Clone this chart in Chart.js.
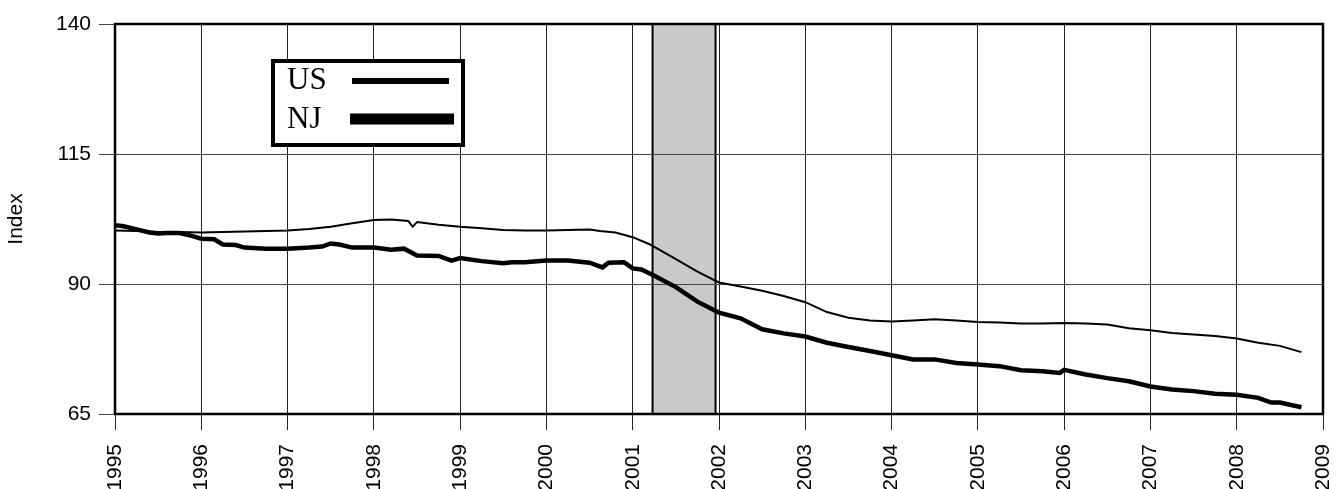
<!DOCTYPE html>
<html>
<head>
<meta charset="utf-8">
<script src="https://cdn.jsdelivr.net/npm/chart.js@4.4.1/dist/chart.umd.min.js"></script>
<style>
  html, body { margin: 0; padding: 0; background: #fff; }
  #wrap { width: 1343px; height: 489px; }
</style>
</head>
<body>
<div id="wrap"><canvas id="myChart"></canvas></div>
<script>
// values (index, decimal year)
const usYears = [1995.0, 1995.25, 1995.5, 1995.75, 1996.0, 1996.25, 1996.5, 1996.75, 1997.0, 1997.25,
  1997.5, 1997.75, 1998.0, 1998.2, 1998.4, 1998.45, 1998.5, 1998.75, 1999.0, 1999.25,
  1999.5, 1999.75, 2000.0, 2000.25, 2000.5, 2000.62, 2000.8, 2001.0, 2001.2, 2001.5,
  2001.75, 2002.0, 2002.25, 2002.5, 2002.75, 2003.0, 2003.25, 2003.5, 2003.75, 2004.0,
  2004.25, 2004.5, 2004.75, 2005.0, 2005.25, 2005.5, 2005.75, 2006.0, 2006.25, 2006.5,
  2006.75, 2007.0, 2007.25, 2007.5, 2007.75, 2008.0, 2008.25, 2008.5, 2008.75];
const usValues = [100.3, 100.2, 100.0, 100.0, 99.9, 100.0, 100.1, 100.2, 100.3, 100.6,
  101.0, 101.7, 102.3, 102.4, 102.1, 101.0, 101.9, 101.4, 101.0, 100.7,
  100.4, 100.3, 100.3, 100.4, 100.5, 100.2, 99.9, 99.0, 97.6, 94.8,
  92.4, 90.3, 89.5, 88.7, 87.7, 86.5, 84.6, 83.5, 83.0, 82.8,
  83.0, 83.2, 83.0, 82.7, 82.6, 82.4, 82.4, 82.5, 82.4, 82.2,
  81.5, 81.1, 80.6, 80.3, 80.0, 79.5, 78.7, 78.1, 76.9];

const njYears = [1995.0, 1995.1, 1995.25, 1995.4, 1995.5, 1995.6, 1995.75, 1995.9, 1996.0, 1996.15,
  1996.25, 1996.4, 1996.5, 1996.75, 1997.0, 1997.25, 1997.4, 1997.5, 1997.6, 1997.75,
  1998.0, 1998.2, 1998.35, 1998.5, 1998.75, 1998.9, 1999.0, 1999.25, 1999.5, 1999.6,
  1999.75, 2000.0, 2000.25, 2000.5, 2000.65, 2000.72, 2000.9, 2001.0, 2001.1, 2001.25,
  2001.5, 2001.75, 2002.0, 2002.25, 2002.5, 2002.75, 2003.0, 2003.25, 2003.5, 2003.75,
  2004.0, 2004.25, 2004.5, 2004.75, 2005.0, 2005.25, 2005.5, 2005.75, 2005.95, 2006.0,
  2006.25, 2006.5, 2006.75, 2007.0, 2007.25, 2007.5, 2007.75, 2008.0, 2008.25, 2008.4,
  2008.5, 2008.75];
const njValues = [101.3, 101.1, 100.5, 99.9, 99.7, 99.8, 99.8, 99.2, 98.7, 98.6,
  97.6, 97.5, 97.0, 96.8, 96.8, 97.0, 97.2, 97.8, 97.6, 97.0,
  97.0, 96.6, 96.8, 95.5, 95.4, 94.5, 95.0, 94.4, 94.0, 94.2,
  94.2, 94.5, 94.5, 94.1, 93.2, 94.1, 94.2, 93.0, 92.8, 91.6,
  89.4, 86.6, 84.5, 83.4, 81.3, 80.5, 79.9, 78.7, 77.9, 77.1,
  76.3, 75.5, 75.5, 74.8, 74.5, 74.2, 73.4, 73.2, 72.9, 73.5,
  72.6, 71.9, 71.3, 70.3, 69.7, 69.4, 68.9, 68.7, 68.1, 67.2,
  67.2, 66.3];

const xTicks = [1995, 1996, 1997, 1998, 1999, 2000, 2001, 2002, 2003, 2004, 2005, 2006, 2007, 2008, 2009];
const yTicks = [65, 90, 115, 140];
const recession = [2001.23, 2001.96];

const toPoints = (xs, ys) => xs.map((x, i) => ({ x, y: ys[i] }));
const sans = "'Liberation Sans', Arial, sans-serif";

const recessionBand = {
  id: "recessionBand",
  beforeDraw(chart) {
    const { ctx, chartArea, scales } = chart;
    const x0 = scales.x.getPixelForValue(recession[0]);
    const x1 = scales.x.getPixelForValue(recession[1]);
    ctx.save();
    ctx.fillStyle = "#c8c9cb";
    ctx.fillRect(x0, chartArea.top, x1 - x0, chartArea.bottom - chartArea.top);
    ctx.lineWidth = 2;
    ctx.strokeStyle = "#000";
    ctx.strokeRect(x0, chartArea.top, x1 - x0, chartArea.bottom - chartArea.top);
    ctx.restore();
  },
};

const frameAndLegend = {
  id: "frameAndLegend",
  afterDraw(chart) {
    const { ctx, chartArea } = chart;
    ctx.save();
    ctx.lineWidth = 2.5;
    ctx.strokeStyle = "#000";
    ctx.strokeRect(chartArea.left, chartArea.top, chartArea.right - chartArea.left, chartArea.bottom - chartArea.top);

    // legend box
    ctx.fillStyle = "#fff";
    ctx.fillRect(273, 61, 190, 84);
    ctx.lineWidth = 4;
    ctx.strokeRect(273, 61, 190, 84);
    ctx.fillStyle = "#000";
    ctx.font = "31px 'Liberation Serif', 'DejaVu Serif', serif";
    ctx.textBaseline = "alphabetic";
    const rows = [
      { y: 89, lineY: 81, w: 6, x0: 352, x1: 449 },
      { y: 128, lineY: 119, w: 11, x0: 350, x1: 454 },
    ];
    chart.data.datasets.forEach((ds, i) => {
      const r = rows[i];
      ctx.fillText(ds.label, 287, r.y);
      ctx.fillRect(r.x0, r.lineY - r.w / 2, r.x1 - r.x0, r.w);
    });
    ctx.restore();
  },
};

new Chart(document.getElementById("myChart"), {
  type: "line",
  data: {
    datasets: [
      {
        label: "US",
        data: toPoints(usYears, usValues),
        borderColor: "#000",
        borderWidth: 2,
        pointRadius: 0,
        tension: 0,
      },
      {
        label: "NJ",
        data: toPoints(njYears, njValues),
        borderColor: "#000",
        borderWidth: 4.5,
        pointRadius: 0,
        tension: 0,
      },
    ],
  },
  options: {
    responsive: true,
    maintainAspectRatio: false,
    animation: false,
    layout: { padding: { top: 24, right: 20, left: 0, bottom: 0 } },
    plugins: {
      legend: { display: false },
      tooltip: { enabled: false },
    },
    scales: {
      x: {
        type: "linear",
        min: 1995,
        max: 2009,
        afterBuildTicks: (scale) => {
          scale.ticks = xTicks.map((v) => ({ value: v }));
        },
        afterFit: (scale) => {
          scale.height = 75;
          scale.paddingLeft = 0;
          scale.paddingRight = 0;
        },
        grid: { color: "#222", lineWidth: 1, tickLength: 16, tickColor: "#222" },
        border: { display: false },
        ticks: {
          color: "#000",
          font: { family: sans, size: 21 },
          maxRotation: 90,
          minRotation: 90,
          padding: 14,
          callback: (v) => String(v),
        },
      },
      y: {
        min: 65,
        max: 140,
        afterBuildTicks: (scale) => {
          scale.ticks = yTicks.map((v) => ({ value: v }));
        },
        afterFit: (scale) => {
          scale.width = 115;
          scale.paddingTop = 0;
          scale.paddingBottom = 0;
        },
        grid: { color: "#444", lineWidth: 1, tickLength: 16, tickColor: "#444" },
        border: { display: false },
        title: {
          display: true,
          text: "Index",
          color: "#000",
          font: { family: sans, size: 21 },
          padding: { top: 4, bottom: 0 },
        },
        ticks: {
          color: "#000",
          font: { family: sans, size: 21 },
          padding: 8,
        },
      },
    },
  },
  plugins: [recessionBand, frameAndLegend],
});
</script>
</body>
</html>
